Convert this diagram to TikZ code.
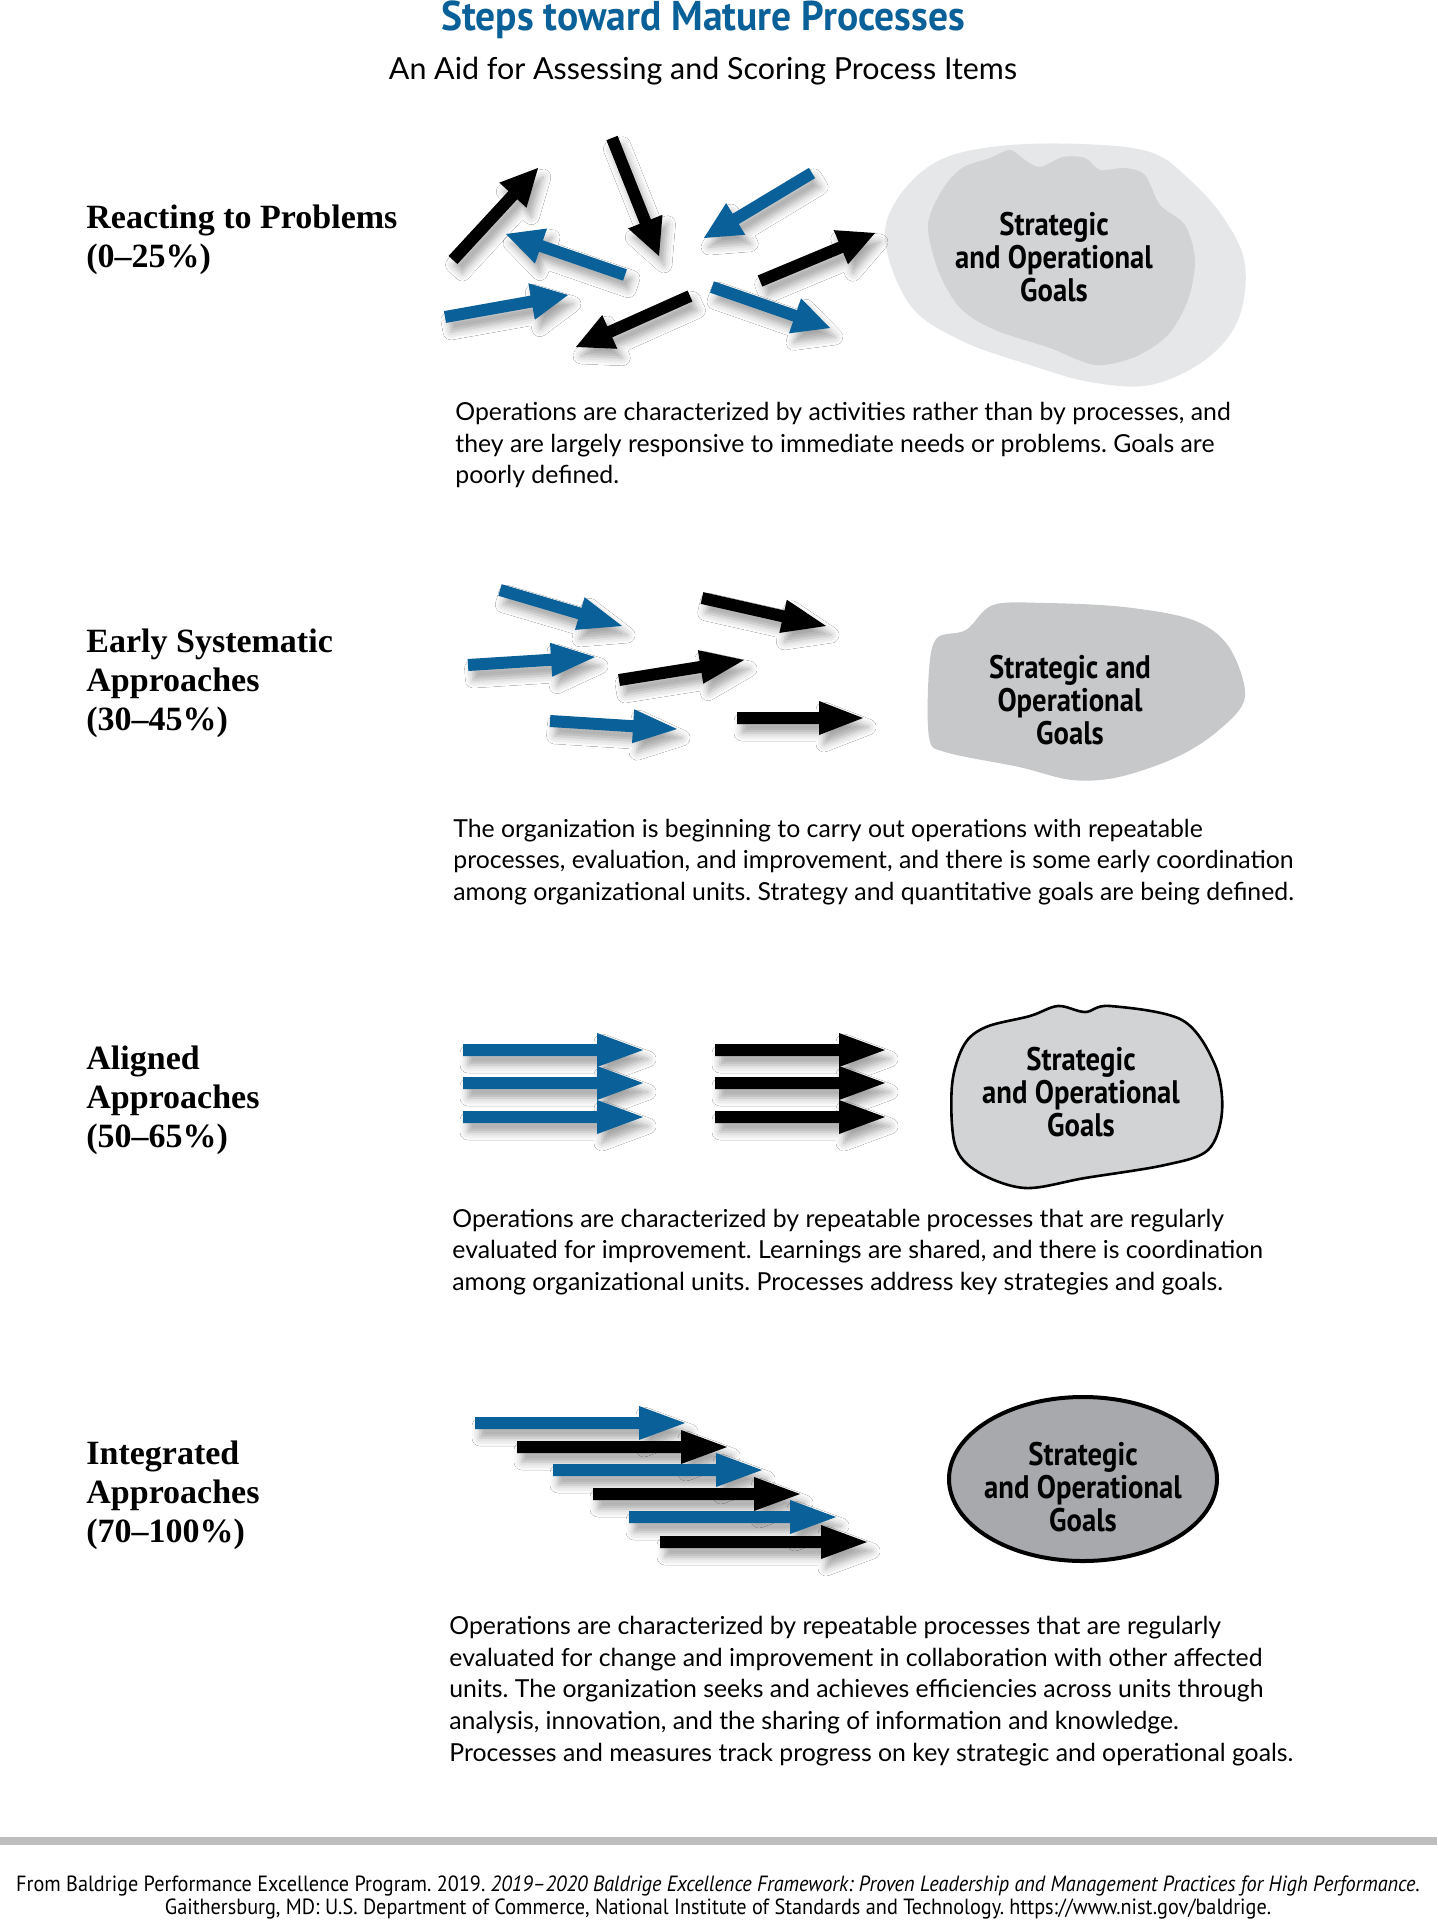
\documentclass[tikz,border=0pt]{standalone}
\usepackage{fontspec}
\setmainfont{Lato}
\newfontfamily\labelfont{Liberation Serif}
\newfontfamily\goalfont[FakeStretch=0.88]{PT Sans}
\newfontfamily\titlefont[FakeStretch=0.95]{PT Sans}
\newfontfamily\footfont[FakeStretch=0.92]{PT Sans}
\usetikzlibrary{calc,shadows.blur}
\frenchspacing

\definecolor{procblue}{RGB}{10,96,152}
\definecolor{cloudlight}{RGB}{230,231,232}
\definecolor{cloudmid}{RGB}{209,211,212}
\definecolor{blobgray}{RGB}{199,200,202}
\definecolor{ovalgray}{RGB}{167,169,172}
\definecolor{rulegray}{RGB}{190,190,190}

\tikzset{
  arrowshadow/.style={blur shadow={shadow xshift=2.5pt, shadow yshift=-4.5pt, shadow blur radius=4pt, shadow opacity=35}},
  stagelabel/.style={font=\labelfont\bfseries\fontsize{17}{19.5}\selectfont, align=left, anchor=west, inner sep=0pt},
  stagetext/.style={font=\fontsize{12.4}{15.9}\selectfont, align=left, anchor=west, inner sep=0pt},
  goaltext/.style={font=\goalfont\bfseries\fontsize{16.3}{16.5}\selectfont, align=center, inner sep=0pt},
}

% block arrow: #1 colour, #2 tail, #3 tip
\def\shafthalf{3pt}
\def\headhalf{9pt}
\def\headlen{20pt}
\newcommand{\procarrow}[3]{%
  \coordinate (arrtail) at #2;
  \coordinate (arrtip) at #3;
  \coordinate (arrbase) at ($(arrtip)!\headlen!(arrtail)$);
  \fill[#1, arrowshadow] ($(arrtail)!\shafthalf!90:(arrtip)$)
    -- ($(arrbase)!\shafthalf!90:(arrtip)$)
    -- ($(arrbase)!\headhalf!90:(arrtip)$)
    -- (arrtip)
    -- ($(arrbase)!\headhalf!-90:(arrtip)$)
    -- ($(arrbase)!\shafthalf!-90:(arrtip)$)
    -- ($(arrtail)!\shafthalf!-90:(arrtip)$) -- cycle;}

\begin{document}
\begin{tikzpicture}[x=0.5pt,y=-0.5pt]
\fill[white] (0,0) rectangle (1437,1920);
\useasboundingbox (0,0) rectangle (1437,1920);

% Title
\node[font=\titlefont\bfseries\fontsize{20.8}{24}\selectfont, text=procblue] (title) at (703,20) {Steps toward Mature Processes};
\node[font=\fontsize{15.2}{18}\selectfont] (subtitle) at (703,71) {An Aid for Assessing and Scoring Process Items};

% Stage 1: reacting
\def\headhalf{9.25pt} \def\headlen{18.5pt}
\fill[cloudlight] plot[smooth cycle, tension=0.6] coordinates {(885,240) (900,195) (940,160) (1000,146) (1080,144) (1150,152) (1190,180) (1225,220) (1245,265) (1238,320) (1205,360) (1150,385) (1090,382) (1030,365) (960,340) (910,305)};
\fill[cloudmid] plot[smooth cycle, tension=0.5] coordinates {(928,225) (942,190) (962,168) (990,158) (1010,150) (1025,160) (1040,167) (1063,157) (1085,158) (1100,170) (1125,168) (1145,175) (1160,205) (1185,225) (1195,260) (1188,300) (1168,335) (1135,357) (1095,365) (1050,348) (995,330) (960,308) (938,270)};
\node[goaltext] (goalA) at (1054,257) {Strategic\\and Operational\\Goals};
\procarrow{black}{(453,260)}{(538,168)}
\procarrow{black}{(612,138)}{(659,256)}
\procarrow{procblue}{(812,173)}{(704,238)}
\procarrow{procblue}{(625,275)}{(506,234)}
\procarrow{black}{(760,281)}{(875,233)}
\procarrow{procblue}{(445,317)}{(568,295)}
\procarrow{black}{(690,296)}{(576,347)}
\procarrow{procblue}{(712,287)}{(830,328)}
\node[stagelabel] (labelA) at (86,240) {Reacting to Problems\\(0–25\%)};
\node[stagetext] (textA) at (455,445) {Operations are characterized by activities rather than by processes, and\\they are largely responsive to immediate needs or problems. Goals are\\poorly defined.};

% Stage 2: early systematic
\def\headhalf{8.5pt} \def\headlen{22pt}
\fill[blobgray] plot[smooth cycle, tension=0.55] coordinates {(993,605) (966,630) (937,638) (929,670) (929,737) (945,752) (1019,767) (1072,780) (1119,777) (1177,757) (1219,730) (1245,697) (1229,647) (1193,620) (1124,607) (1045,603)};
\node[goaltext] (goalB) at (1070,700) {Strategic and\\Operational\\Goals};
\procarrow{procblue}{(500,590)}{(622,626)}
\procarrow{black}{(702,598)}{(826,626)}
\procarrow{procblue}{(468,665)}{(595,657)}
\procarrow{black}{(619,680)}{(744,660)}
\procarrow{procblue}{(550,721)}{(677,729)}
\procarrow{black}{(737,718)}{(863,718)}
\node[stagelabel] (labelB) at (86,683) {Early Systematic\\Approaches\\(30–45\%)};
\node[stagetext] (textB) at (453,862) {The organization is beginning to carry out operations with repeatable\\processes, evaluation, and improvement, and there is some early coordination\\among organizational units. Strategy and quantitative goals are being defined.};

% Stage 3: aligned
\def\headhalf{8.5pt} \def\headlen{23pt}
\fill[cloudmid, draw=black, line width=1.3pt] plot[smooth cycle, tension=0.55] coordinates {(986,1027) (1030,1016) (1058,1006) (1085,1012) (1110,1006) (1182,1020) (1215,1065) (1222,1112) (1208,1150) (1165,1165) (1085,1178) (1025,1188) (978,1172) (955,1145) (952,1085) (964,1045)};
\node[goaltext] (goalC) at (1081,1092) {Strategic\\and Operational\\Goals};
\foreach \yy in {1050,1083,1117} {
  \procarrow{procblue}{(463,\yy)}{(643,\yy)}
  \procarrow{black}{(715,\yy)}{(885,\yy)}
}
\node[stagelabel] (labelC) at (86,1100) {Aligned\\Approaches\\(50–65\%)};
\node[stagetext] (textC) at (452,1252) {Operations are characterized by repeatable processes that are regularly\\evaluated for improvement. Learnings are shared, and there is coordination\\among organizational units. Processes address key strategies and goals.};

% Stage 4: integrated
\fill[ovalgray, draw=black, line width=2pt] (1083,1479) ellipse [x radius=134, y radius=82];
\node[goaltext] (goalD) at (1083,1487) {Strategic\\and Operational\\Goals};
\foreach \tx/\hx/\yy/\col in {475/685/1423/procblue, 517/727/1447/black, 553/762/1470/procblue, 593/800/1494/black, 629/836/1517/procblue, 660/867/1542/black} {
  \procarrow{\col}{(\tx,\yy)}{(\hx,\yy)}
}
\node[stagelabel] (labelD) at (86,1495) {Integrated\\Approaches\\(70–100\%)};
\node[stagetext] (textD) at (449,1691) {Operations are characterized by repeatable processes that are regularly\\evaluated for change and improvement in collaboration with other affected\\units. The organization seeks and achieves efficiencies across units through\\analysis, innovation, and the sharing of information and knowledge.\\Processes and measures track progress on key strategic and operational goals.};

% Source
\fill[rulegray] (0,1837) rectangle (1437,1845);
\node[font=\footfont\fontsize{11}{11.5}\selectfont, align=center] (source) at (718,1897) {From Baldrige Performance Excellence Program. 2019. \textit{2019–2020 Baldrige Excellence Framework: Proven Leadership and Management Practices for High Performance}.\\Gaithersburg, MD: U.S. Department of Commerce, National Institute of Standards and Technology. https://www.nist.gov/baldrige.};
\end{tikzpicture}
\end{document}
